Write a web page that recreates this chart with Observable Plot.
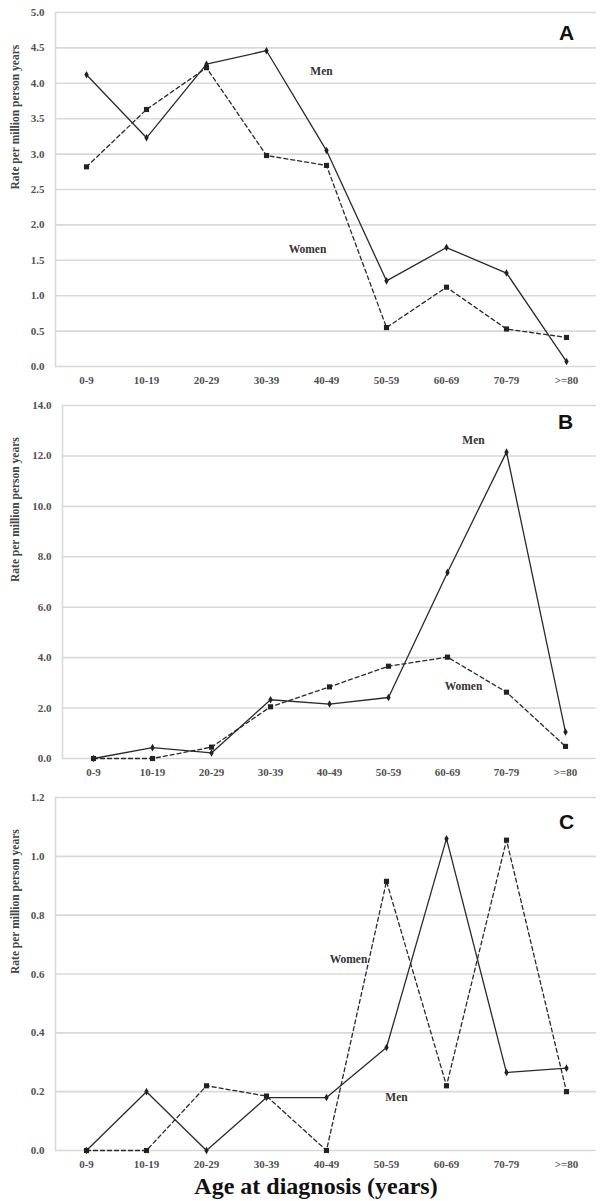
<!DOCTYPE html>
<html>
<head>
<meta charset="utf-8">
<script src="https://cdn.jsdelivr.net/npm/d3@7"></script>
<script src="https://cdn.jsdelivr.net/npm/@observablehq/plot@0.6"></script>
<style>
  html, body { margin: 0; padding: 0; background: #fff; width: 600px; }
  svg { display: block; }
  svg text { font-family: "Liberation Serif", "Times New Roman", serif; }
  #title { height: 29px; line-height: 29px; font-family: "Liberation Serif", "Times New Roman", serif; font-weight: bold; font-size: 24px; color: #111; text-align: center; padding-left: 32px; box-sizing: border-box; width: 600px; }
</style>
</head>
<body>
<div id="charts"></div>
<div id="title">Age at diagnosis (years)</div>
<script>
const ages = ["0-9", "10-19", "20-29", "30-39", "40-49", "50-59", "60-69", "70-79", ">=80"];

// Panel A
const menA   = [4.12, 3.23, 4.27, 4.46, 3.05, 1.21, 1.68, 1.32, 0.07];
const womenA = [2.82, 3.63, 4.22, 2.98, 2.84, 0.55, 1.12, 0.53, 0.41];
const ticksA = [0, 0.5, 1.0, 1.5, 2.0, 2.5, 3.0, 3.5, 4.0, 4.5, 5.0];

// Panel B
const menB   = [0.0, 0.43, 0.22, 2.33, 2.16, 2.42, 7.38, 12.15, 1.05];
const womenB = [0.0, 0.0, 0.45, 2.05, 2.84, 3.66, 4.02, 2.63, 0.48];
const ticksB = [0, 2, 4, 6, 8, 10, 12, 14];

// Panel C
const menC   = [0.0, 0.20, 0.0, 0.18, 0.18, 0.35, 1.06, 0.265, 0.28];
const womenC = [0.0, 0.0, 0.22, 0.185, 0.0, 0.915, 0.22, 1.055, 0.20];
const ticksC = [0, 0.2, 0.4, 0.6, 0.8, 1.0, 1.2];

// Annotations: [text, category, value]
const notesA = [["Men", "40-49", 4.17], ["Women", "40-49", 1.65]];
const notesB = [["Men", "70-79", 12.6], ["Women", "70-79", 2.86]];
const notesC = [["Women", "50-59", 0.65], ["Men", "50-59", 0.18]];
const letters = [["A", ">=80", 4.7], ["B", ">=80", 13.33], ["C", ">=80", 1.115]];
const yLabel = "Rate per million person years";

function panel({men, women, ticks, ymax, notes, letter, height, mt, mb, ml, noteDx}) {
  const rows = ages.map((a, i) => ({age: a, men: men[i], women: women[i]}));
  const noteMarks = notes.map(([t, c, v], i) =>
    Plot.text([{t, c, v}], {x: "c", y: "v", text: "t", dx: noteDx[i], fontSize: 11.5, fontWeight: "bold", fill: "#333"}));
  return Plot.plot({
    width: 600,
    height,
    marginTop: mt,
    marginBottom: mb,
    marginLeft: ml,
    marginRight: 4,
    style: {background: "#fff"},
    x: {type: "point", domain: ages, padding: 0.5, label: null},
    y: {domain: [0, ymax], label: null},
    marks: [
      Plot.ruleY(ticks, {stroke: "#d9d9d9", strokeWidth: 1.6}),
      Plot.frame({anchor: "left", stroke: "#d9d9d9", strokeWidth: 1.6}),
      Plot.axisY(ticks, {
        tickSize: 0, tickPadding: 11, tickFormat: d => d.toFixed(1),
        fontSize: 11, fontWeight: "bold", fill: "#505050", label: null
      }),
      Plot.text([yLabel], {text: d => d, frameAnchor: "left", rotate: -90, dx: -(ml - 15), fontSize: 11.5, fontWeight: "bold", fill: "#444"}),
      Plot.axisX({tickSize: 0, tickPadding: 10, fontSize: 11, fontWeight: "bold", fill: "#505050"}),
      Plot.line(rows, {x: "age", y: "women", stroke: "#2a2a2a", strokeWidth: 1.3, strokeDasharray: "4,3"}),
      Plot.line(rows, {x: "age", y: "men", stroke: "#2a2a2a", strokeWidth: 1.3}),
      Plot.dot(rows, {x: "age", y: "women", symbol: "square", r: 2.9, fill: "#222"}),
      Plot.dot(rows, {x: "age", y: "men", symbol: "diamond", r: 2.3, fill: "#222"}),
      ...noteMarks,
      Plot.text([letter], {x: d => d[1], y: d => d[2], text: d => d[0], fontSize: 21, fontWeight: "bold", fill: "#111"})
    ]
  });
}

const charts = document.getElementById("charts");
const specs = [
  {men: menA, women: womenA, ticks: ticksA, ymax: 5, notes: notesA, letter: letters[0], height: 390, mt: 12, mb: 24, ml: 55, noteDx: [-5, -19]},
  {men: menB, women: womenB, ticks: ticksB, ymax: 14, notes: notesB, letter: letters[1], height: 397, mt: 15, mb: 29, ml: 62, noteDx: [-33, -43]},
  {men: menC, women: womenC, ticks: ticksC, ymax: 1.2, notes: notesC, letter: letters[2], height: 385, mt: 10, mb: 22, ml: 55, noteDx: [-38, 10]}
];
const letterNames = letters.map(l => l[0]);
for (const s of specs) {
  const svg = panel(s);
  svg.querySelectorAll("text").forEach(t => {
    if (letterNames.includes(t.textContent)) t.style.fontFamily = "'Liberation Sans', Arial, sans-serif";
  });
  charts.appendChild(svg);
}
</script>
</body>
</html>
